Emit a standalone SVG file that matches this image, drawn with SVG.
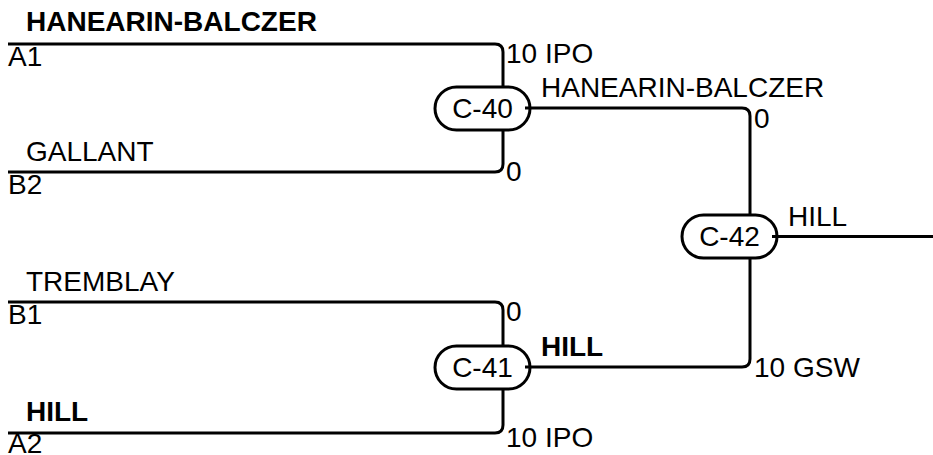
<svg xmlns="http://www.w3.org/2000/svg" width="933" height="455" viewBox="0 0 933 455">
<style>
text{font-family:"Liberation Sans",Arial,sans-serif;font-size:28px;fill:#000}
.b{font-weight:bold}
.m{text-anchor:middle}
.pill{fill:none;stroke:#000;stroke-width:3}
.c{fill:none;stroke:#000;stroke-width:3}
</style>
<rect width="933" height="455" fill="#fff"/>
<g id="labels">
<text class="b" x="26" y="31">HANEARIN-BALCZER</text>
<text x="8" y="66">A1</text>
<text x="26" y="161">GALLANT</text>
<text x="8" y="194">B2</text>
<text x="26" y="291">TREMBLAY</text>
<text x="8" y="324">B1</text>
<text class="b" x="26" y="421">HILL</text>
<text x="8" y="453">A2</text>
</g>
<g id="C-40">
<rect class="pill" x="435" y="87" width="95" height="43" rx="21.5"/>
<text class="m" x="482.5" y="118">C-40</text>
<text x="506" y="63">10 IPO</text>
<text x="506" y="181">0</text>
<text x="541" y="97">HANEARIN-BALCZER</text>
</g>
<g id="C-41">
<rect class="pill" x="435" y="346" width="95" height="43" rx="21.5"/>
<text class="m" x="482.5" y="377">C-41</text>
<text x="506" y="321">0</text>
<text x="506" y="447">10 IPO</text>
<text class="b" x="541" y="356">HILL</text>
</g>
<g id="C-42">
<rect class="pill" x="682" y="215" width="95" height="43" rx="21.5"/>
<text class="m" x="729.5" y="246">C-42</text>
<text x="754" y="128">0</text>
<text x="754" y="377">10 GSW</text>
<text x="788" y="226">HILL</text>
</g>
<g id="connectors">
<path class="c" d="M8 44 H495 Q503 44 503 52 V87"/>
<path class="c" d="M8 172 H495 Q503 172 503 164 V130"/>
<path class="c" d="M8 302 H495 Q503 302 503 310 V346"/>
<path class="c" d="M8 433 H495 Q503 433 503 425 V389"/>
<path class="c" d="M525 108 H742 Q750 108 750 116 V215"/>
<path class="c" d="M525 367 H742 Q750 367 750 359 V258"/>
<path class="c" d="M772 236.5 H933"/>
</g>
</svg>
